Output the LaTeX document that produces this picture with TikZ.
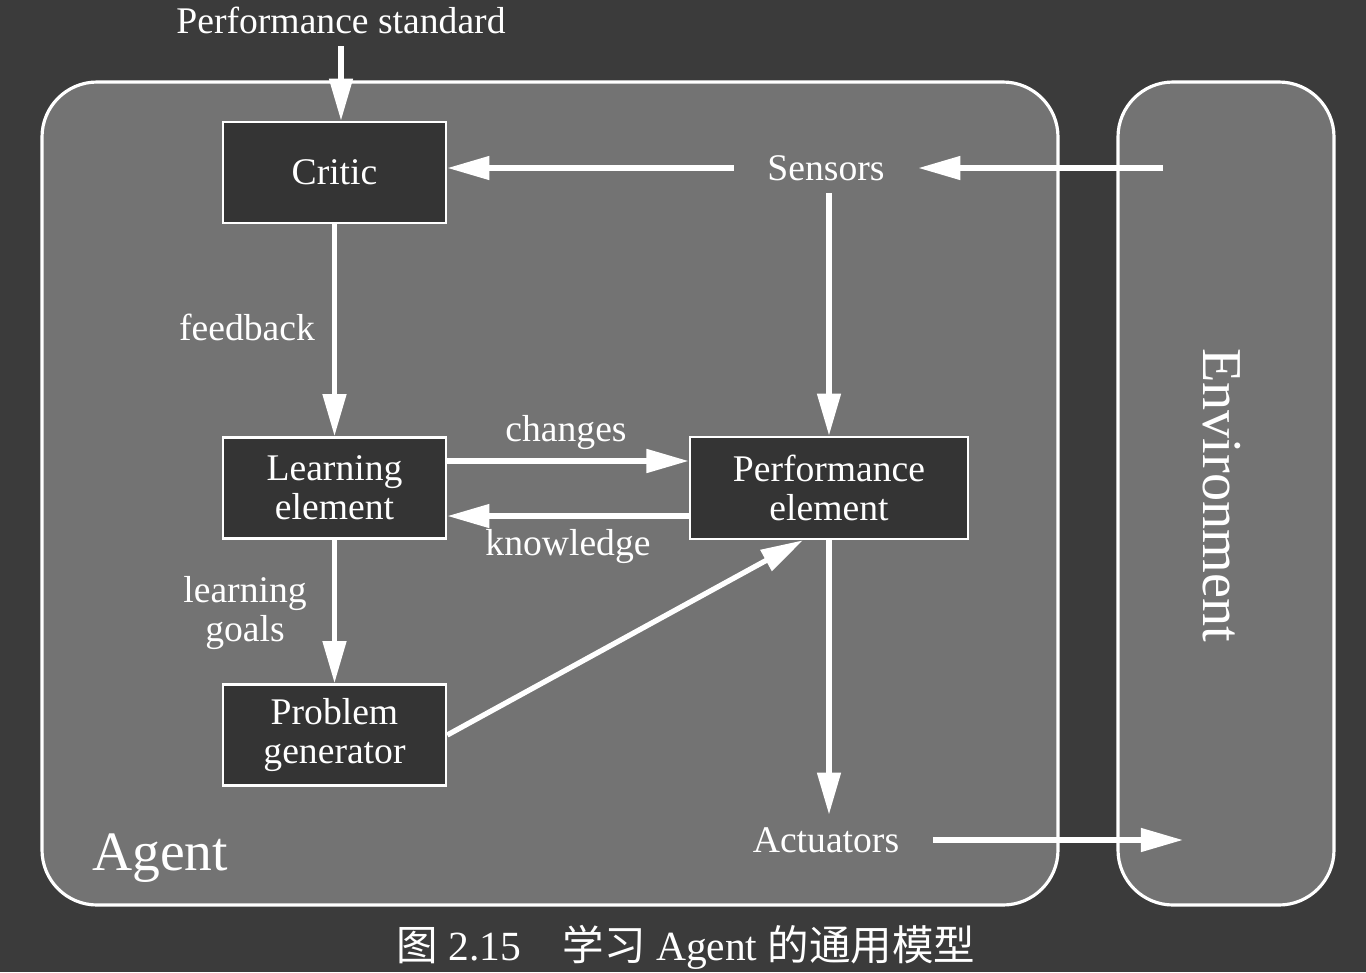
\documentclass[tikz,border=0pt]{standalone}
\usepackage{fontspec}
\setmainfont{Liberation Serif}
\newfontfamily\cjk{Noto Sans CJK SC}
\usetikzlibrary{arrows.meta}

\definecolor{bgdark}{HTML}{3B3B3B}
\definecolor{panelgray}{HTML}{737373}
\definecolor{boxdark}{HTML}{343434}

\tikzset{
  box/.style={draw=white, line width=0.7pt, fill=boxdark, text=white,
    align=center, minimum width=2.23cm, minimum height=1.01cm, inner sep=0pt,
    font=\fontsize{10.7}{11.2}\selectfont},
  lbl/.style={text=white, align=center, inner xsep=0.33cm, inner ysep=0.12cm,
    font=\fontsize{10.7}{11.2}\selectfont},
  flow/.style={draw=white, line width=1.5pt, -{Triangle[length=12pt,width=6.5pt]}},
  panel/.style={draw=white, line width=0.9pt, fill=panelgray, rounded corners=0.55cm}
}

\begin{document}
\begin{tikzpicture}[x=0.01cm,y=-0.01cm]
   \useasboundingbox (0,0) rectangle (1366,972);
   \fill[bgdark] (0,0) rectangle (1366,972);

   % agent and environment
   \draw[panel] (42,82) rectangle (1058,905);
   \draw[panel] (1118,82) rectangle (1334,905);
   \node[text=white, font=\fontsize{15.8}{18}\selectfont] (agent) at (160,858) {Agent};
   \node[text=white, rotate=-90, font=\fontsize{16}{18}\selectfont] (env) at (1222,495) {Environment};

   % elements
   \node[box] (critic) at (334.5,172.5) {Critic};
   \node[box] (learn) at (334.5,488) {Learning\\element};
   \node[box, minimum width=2.78cm, minimum height=1.02cm] (perf) at (829,488) {Performance\\element};
   \node[box] (prob) at (334.5,735) {Problem\\generator};

   \node[lbl] (ps) at (341,20) {Performance standard};
   \node[lbl] (sensors) at (826,168) {Sensors};
   \node[lbl] (act) at (826,840) {Actuators};
   \coordinate (envin) at (1163,168);
   \coordinate (envout) at (1183,840);

   % connectors
   \path (ps.south) edge[flow] (ps.south |- critic.north);
   \path (envin) edge[flow] (sensors.east);
   \path (sensors.west) edge[flow] (sensors.west -| critic.east);
   \path (sensors.south -| perf.north) edge[flow] (perf.north);
   \path (critic.south) edge[flow] (learn.north);
   \path ([yshift=0.27cm]learn.east) edge[flow] ([yshift=0.27cm]learn.east -| perf.west);
   \path ([yshift=-0.28cm]perf.west) edge[flow] ([yshift=-0.28cm]perf.west -| learn.east);
   \path (learn.south) edge[flow] (prob.north);
   \path (prob.east) edge[flow] ([xshift=-0.26cm]perf.south);
   \path (perf.south) edge[flow] (perf.south |- act.north);
   \path (act.east) edge[flow] (envout);

   % edge labels
   \node[lbl] (fb) at (247,327) {feedback};
   \node[lbl] (chg) at (566,432) {changes};
   \node[lbl] (know) at (568,546) {knowledge};
   \node[lbl] (goals) at (245,613) {learning\\goals};

   % caption
   \node[text=white, inner sep=0pt, font=\fontsize{11.8}{14}\selectfont] (cap) at (686,947)
     {{\cjk 图}~2.15\hspace{1em}{\cjk 学习}~Agent~{\cjk 的通用模型}};

\end{tikzpicture}
\end{document}
